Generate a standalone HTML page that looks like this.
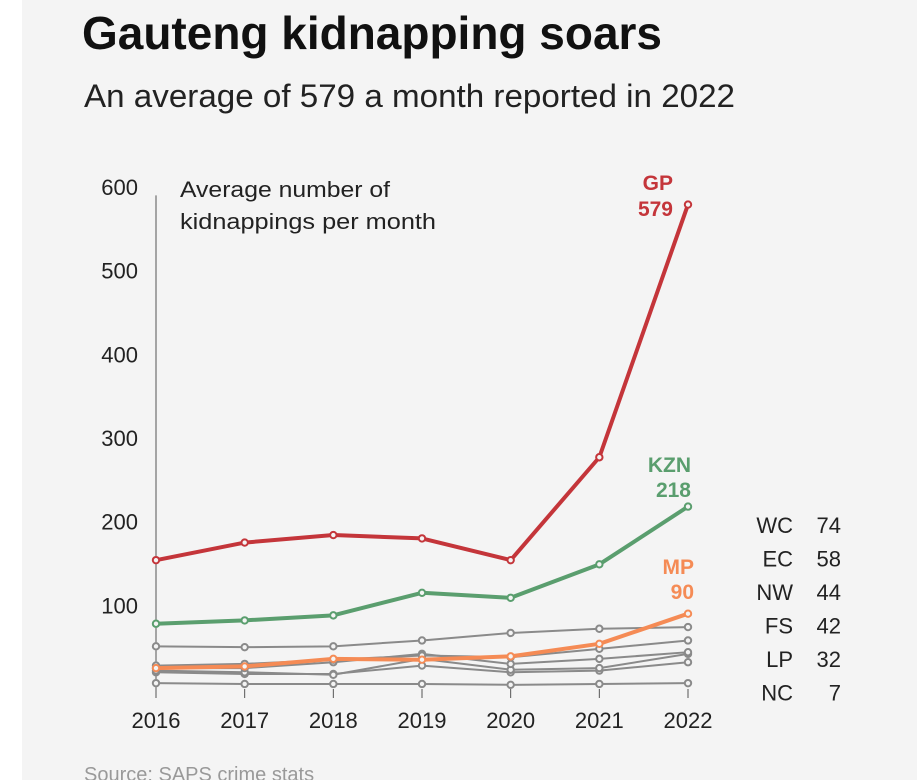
<!DOCTYPE html>
<html><head><meta charset="utf-8"><style>
body{margin:0;background:#fff;}
svg{display:block;font-family:"Liberation Sans",sans-serif;}
</style></head><body>
<svg width="917" height="780" viewBox="0 0 917 780">
<rect x="22" y="0" width="895" height="780" fill="#f4f4f4"/>
<text x="82" y="49" font-size="46" font-weight="bold" fill="#111" textLength="580" lengthAdjust="spacingAndGlyphs">Gauteng kidnapping soars</text>
<text x="84" y="107" font-size="32" fill="#222" textLength="651" lengthAdjust="spacingAndGlyphs">An average of 579 a month reported in 2022</text>
<text x="180" y="197" font-size="22" fill="#222" textLength="210" lengthAdjust="spacingAndGlyphs">Average number of</text>
<text x="180" y="229" font-size="22" fill="#222" textLength="256" lengthAdjust="spacingAndGlyphs">kidnappings per month</text>
<text x="84" y="781" font-size="20" fill="#999">Source: SAPS crime stats</text>
<g id="axes"></g>
<g id="series"></g>
<g id="legend"></g>
</svg>
<script>
const years=[2016,2017,2018,2019,2020,2021,2022];
const yTicks=[100,200,300,400,500,600];
const gp=[154,175,184,180,154,277,579];
const kzn=[78,82,88,115,109,149,218];
const mp=[25,27,36,35,39,54,90];
const wc=[51,50,51,58,67,72,74];
const ec=[28,30,35,40,38,48,58];
const nw=[25,25,32,42,30,36,44];
const fs=[22,20,17,36,23,25,42];
const lp=[20,18,18,28,20,22,32];
const nc=[7,6,6,6,5,6,7];
const legendCodes=["WC","EC","NW","FS","LP","NC"];
const legendVals=[74,58,44,42,32,7];

const NS="http://www.w3.org/2000/svg";
const xS=i=>156+i*(688-156)/(years.length-1);
const yS=v=>689-v*(689-187)/600;
function mk(tag,attrs,parent,txt){const e=document.createElementNS(NS,tag);for(const k in attrs)e.setAttribute(k,attrs[k]);if(txt!==undefined)e.textContent=txt;parent.appendChild(e);return e;}
const axes=document.getElementById('axes'),ser=document.getElementById('series'),leg=document.getElementById('legend');
const ax=mk('line',{x1:156,x2:156,y1:yS(590),y2:698,stroke:'#555','stroke-width':1},axes);


yTicks.forEach(t=>{
 const e=mk('text',{x:138,y:yS(t)+8,'font-size':22,'text-anchor':'end',fill:'#222'},axes,String(t));
 
 
});
years.forEach((y,i)=>{
 const tk=mk('line',{x1:xS(i),x2:xS(i),y1:689,y2:698,stroke:'#555','stroke-width':1},axes);
 
 
 const e=mk('text',{x:xS(i),y:728,'font-size':22,'text-anchor':'middle',fill:'#222'},axes,String(y));
 
 
});
function drawSeries(name,vals,color,w){
 const g=mk('g',{},ser);
 
 
 const pts=vals.map((v,i)=>xS(i)+','+yS(v)).join(' ');
 const p=mk('polyline',{points:pts,fill:'none',stroke:color,'stroke-width':w,'stroke-linejoin':'round'},g);
 
 
 vals.forEach((v,i)=>{
  const c=mk('circle',{cx:xS(i),cy:yS(v),r:3.2,fill:'#f4f4f4',stroke:color,'stroke-width':2},g);
  
  
 });
}
const grey='#8a8a8a';
drawSeries('nc',nc,grey,2);
drawSeries('lp',lp,grey,2);
drawSeries('fs',fs,grey,2);
drawSeries('nw',nw,grey,2);
drawSeries('ec',ec,grey,2);
drawSeries('wc',wc,grey,2);
drawSeries('mp',mp,'#f58b55',4);
drawSeries('kzn',kzn,'#5a9e6e',4);
drawSeries('gp',gp,'#c4353a',4);
function lab(txt,x,y,color,name){const e=mk('text',{x:x,y:y,'font-size':21,'font-weight':'bold','text-anchor':'end',fill:color},ser,txt);
 
 }
lab('GP',673,190,'#c4353a','label-gp');
lab(String(gp[6]),673,216,'#c4353a','value-gp');
lab('KZN',691,472,'#5a9e6e','label-kzn');
lab(String(kzn[6]),691,497,'#5a9e6e','value-kzn');
lab('MP',694,574,'#f58b55','label-mp');
lab(String(mp[6]),694,599,'#f58b55','value-mp');
legendCodes.forEach((c,i)=>{
 const y=533+i*33.5;
 const a=mk('text',{x:793,y:y,'font-size':22,'text-anchor':'end',fill:'#222'},leg,c);
 
 
 const b=mk('text',{x:841,y:y,'font-size':22,'text-anchor':'end',fill:'#222'},leg,String(legendVals[i]));
 
 
});
</script>
</body></html>
